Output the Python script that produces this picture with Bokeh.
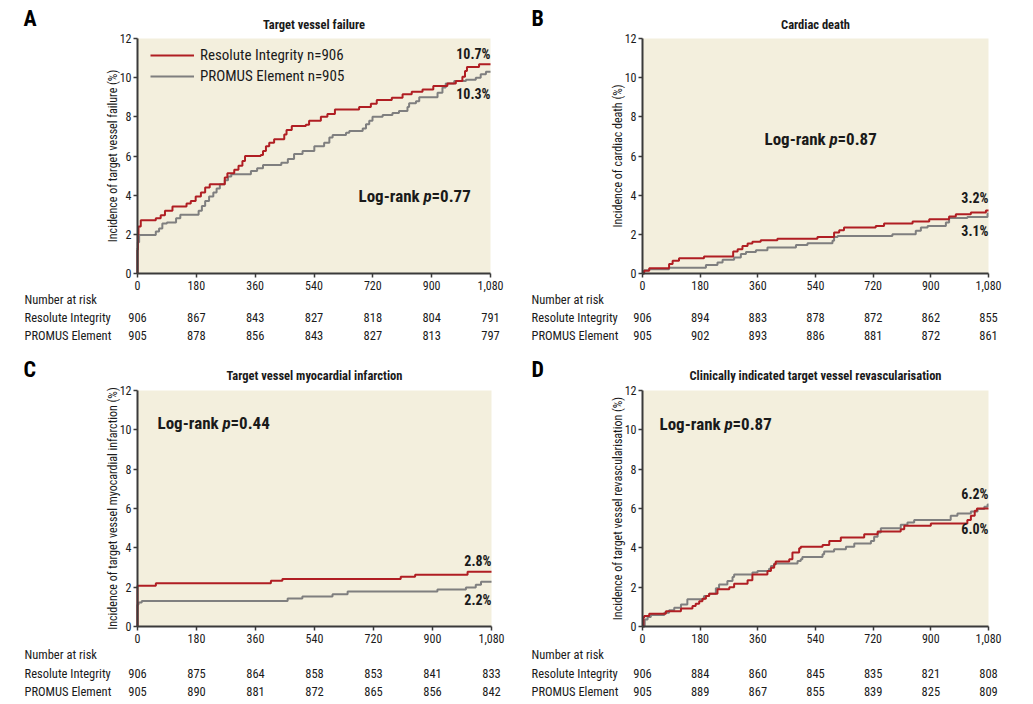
import math
from bokeh.plotting import figure
from bokeh.models import (Range1d, FixedTicker, NumeralTickFormatter, Label, LabelSet, LinearAxis,
                          ColumnDataSource, Legend, LegendItem, BoxAnnotation)
from bokeh.layouts import column, row
from bokeh.core.properties import value
from bokeh.embed import file_html
from bokeh.resources import INLINE

# ---------------- data ----------------
x_ticks = [0, 180, 360, 540, 720, 900, 1080]
y_ticks = [0, 2, 4, 6, 8, 10, 12]
series_names = ["Resolute Integrity", "PROMUS Element"]
legend_labels = ["Resolute Integrity n=906", "PROMUS Element n=905"]

# Panel A: target vessel failure
a_red_t = [0, 0, 1, 3, 10, 56, 71, 84, 107, 150, 163, 178, 194, 207, 221, 267, 275, 296, 309, 321, 329,
           377, 384, 393, 403, 418, 449, 456, 472, 515, 525, 561, 581, 604, 678, 714, 732, 778, 811,
           839, 872, 905, 948, 974, 994, 1002, 1008, 1045, 1080]
a_red_v = [0, 1.2, 2.0, 2.4, 2.72, 2.82, 2.98, 3.2, 3.42, 3.57, 3.7, 3.93, 4.13, 4.39, 4.56, 4.9, 5.12, 5.3, 5.5,
           5.75, 6.0, 6.05, 6.26, 6.5, 6.68, 6.85, 7.1, 7.33, 7.53, 7.6, 7.8, 8.0, 8.15, 8.38, 8.5, 8.67,
           8.86, 8.98, 9.15, 9.28, 9.4, 9.57, 9.7, 9.83, 10.05, 10.34, 10.54, 10.68, 10.68]
a_gray_t = [0, 0, 1, 5, 56, 66, 76, 90, 118, 131, 187, 197, 207, 219, 232, 242, 252, 267, 277, 287, 347,
            366, 384, 440, 460, 479, 505, 541, 571, 587, 597, 638, 648, 689, 699, 709, 719, 750, 780,
            800, 826, 831, 852, 862, 918, 933, 943, 969, 1005, 1035, 1050, 1066, 1080]
a_gray_v = [0, 1.3, 1.6, 1.97, 2.15, 2.3, 2.55, 2.6, 2.82, 3.0, 3.2, 3.45, 3.7, 3.93, 4.13, 4.34, 4.56, 4.76,
            4.95, 5.07, 5.24, 5.37, 5.54, 5.66, 5.85, 6.1, 6.26, 6.5, 6.68, 6.94, 7.07, 7.19, 7.28, 7.41,
            7.62, 7.8, 8.0, 8.1, 8.2, 8.3, 8.5, 8.7, 8.8, 9.0, 9.23, 9.5, 9.7, 9.83, 9.9, 10.0, 10.17,
            10.3, 10.3]

# Panel B: cardiac death
b_red_t = [0, 5, 21, 83, 94, 114, 192, 283, 297, 312, 328, 343, 369, 421, 546, 598, 614, 629, 728, 754,
           843, 895, 957, 978, 1025, 1072, 1080]
b_red_v = [0, 0.14, 0.27, 0.48, 0.65, 0.78, 0.87, 1.12, 1.24, 1.41, 1.53, 1.62, 1.7, 1.77, 1.87, 2.09,
           2.21, 2.35, 2.43, 2.55, 2.66, 2.77, 2.91, 3.03, 3.11, 3.22, 3.22]
b_gray_t = [0, 5, 21, 83, 198, 234, 250, 286, 307, 323, 354, 390, 479, 515, 593, 598, 609, 780, 853,
            869, 890, 947, 957, 1014, 1077, 1080]
b_gray_v = [0, 0.17, 0.22, 0.3, 0.43, 0.56, 0.7, 0.82, 0.99, 1.1, 1.19, 1.33, 1.45, 1.55, 1.67, 1.87,
            1.92, 2.0, 2.18, 2.35, 2.43, 2.6, 2.83, 2.89, 3.07, 3.07]

# Panel C: target vessel myocardial infarction
c_red_t = [0, 0, 56, 407, 442, 803, 847, 1007, 1080]
c_red_v = [0, 2.07, 2.2, 2.32, 2.41, 2.53, 2.63, 2.78, 2.78]
c_gray_t = [0, 0, 3, 13, 458, 503, 595, 641, 915, 1002, 1032, 1048, 1080]
c_gray_v = [0, 1.1, 1.22, 1.3, 1.42, 1.53, 1.64, 1.78, 1.88, 1.98, 2.12, 2.27, 2.27]

# Panel D: clinically indicated target vessel revascularisation
d_red_t = [0, 3, 5, 21, 73, 120, 156, 166, 177, 187, 198, 208, 234, 271, 286, 328, 343, 390, 401, 411,
           416, 458, 468, 489, 494, 562, 583, 619, 692, 734, 806, 817, 900, 1014, 1025, 1037, 1044, 1080]
d_red_v = [0, 0.44, 0.53, 0.65, 0.78, 0.92, 1.04, 1.16, 1.29, 1.41, 1.55, 1.67, 1.89, 2.0, 2.18, 2.35,
           2.65, 2.82, 2.99, 3.16, 3.3, 3.42, 3.76, 3.98, 4.05, 4.15, 4.35, 4.52, 4.69, 4.83, 4.95, 5.12,
           5.24, 5.41, 5.63, 5.88, 6.0, 6.0]
d_gray_t = [0, 7, 16, 26, 68, 83, 99, 120, 140, 192, 208, 229, 239, 265, 281, 286, 343, 359, 395, 401,
            411, 484, 494, 499, 562, 567, 598, 635, 661, 713, 723, 734, 744, 806, 827, 848, 962, 983,
            1025, 1046, 1067, 1077, 1080]
d_gray_v = [0, 0.36, 0.48, 0.58, 0.7, 0.82, 0.95, 1.12, 1.38, 1.55, 1.67, 1.94, 2.14, 2.31, 2.52, 2.65,
            2.74, 2.82, 2.94, 3.08, 3.2, 3.33, 3.42, 3.54, 3.67, 3.81, 3.93, 4.05, 4.22, 4.35, 4.56, 4.78,
            5.0, 5.17, 5.29, 5.41, 5.63, 5.75, 5.85, 5.97, 6.09, 6.2, 6.2]

# Numbers at risk
a_risk_res = [906, 867, 843, 827, 818, 804, 791]
a_risk_pro = [905, 878, 856, 843, 827, 813, 797]
b_risk_res = [906, 894, 883, 878, 872, 862, 855]
b_risk_pro = [905, 902, 893, 886, 881, 872, 861]
c_risk_res = [906, 875, 864, 858, 853, 841, 833]
c_risk_pro = [905, 890, 881, 872, 865, 856, 842]
d_risk_res = [906, 884, 860, 845, 835, 821, 808]
d_risk_pro = [905, 889, 867, 855, 839, 825, 809]

end_labels = {"A": ("10.7%", "10.3%"), "B": ("3.2%", "3.1%"), "C": ("2.8%", "2.2%"), "D": ("6.2%", "6.0%")}
pvalues = {"A": "0.77", "B": "0.87", "C": "0.44", "D": "0.87"}
titles = {"A": "Target vessel failure", "B": "Cardiac death",
          "C": "Target vessel myocardial infarction",
          "D": "Clinically indicated target vessel revascularisation"}
ylabels = {"A": "Incidence of target vessel failure (%)", "B": "Incidence of cardiac death (%)",
           "C": "Incidence of target vessel myocardial infarction (%)",
           "D": "Incidence of target vessel revascularisation (%)"}

# ---------------- style ----------------
FONT = "Roboto Condensed"
RED = "#b01e23"
GRAY = "#7f7f7f"
BG = "#f3efdd"
AXIS = "#3a3a3a"
TXT = "#1a1a1a"

# layout (screen pixel coordinates: canvas origin, canvas size, frame l/t/r/b)
layout = {
    "A": dict(origin=(0, 0), size=(513, 346), frame=(137, 38, 490, 273),
              red_end_y=53, gray_end_y=93, lr=(358, 195)),
    "B": dict(origin=(513, 0), size=(517, 346), frame=(642, 38, 988, 273),
              red_end_y=197, gray_end_y=230, lr=(764, 138)),
    "C": dict(origin=(0, 346), size=(513, 356), frame=(137, 390, 491, 626),
              red_end_y=560, gray_end_y=599, lr=(157, 422)),
    "D": dict(origin=(513, 346), size=(517, 356), frame=(642, 390, 988, 626),
              red_end_y=493, gray_end_y=528, lr=(659, 423)),
}
curves = {"A": (a_red_t, a_red_v, a_gray_t, a_gray_v), "B": (b_red_t, b_red_v, b_gray_t, b_gray_v),
          "C": (c_red_t, c_red_v, c_gray_t, c_gray_v), "D": (d_red_t, d_red_v, d_gray_t, d_gray_v)}
risks = {"A": (a_risk_res, a_risk_pro), "B": (b_risk_res, b_risk_pro),
         "C": (c_risk_res, c_risk_pro), "D": (d_risk_res, d_risk_pro)}


def make_panel(key):
    L = layout[key]
    ox, oy = L["origin"]
    w, h = L["size"]
    fl, ft, fr, fb = L["frame"]
    sx = 1080.0 / (fr - fl)
    sy = 12.0 / (fb - ft)

    def X(px):
        return (px - fl) * sx

    def Y(py):
        return (fb - py) * sy

    p = figure(width=w, height=h,
               x_range=Range1d(X(ox), X(ox + w)), y_range=Range1d(Y(oy + h), Y(oy)),
               output_backend="svg", toolbar_location=None,
               x_axis_location=None, y_axis_location=None,
               min_border=0, min_border_left=0, min_border_right=0,
               min_border_top=0, min_border_bottom=0)
    p.title.visible = False
    p.background_fill_color = "white"
    p.border_fill_color = "white"
    p.outline_line_color = None
    p.grid.visible = False

    # plot area background
    p.add_layout(BoxAnnotation(left=0, right=1080, bottom=0, top=12, fill_color=BG, fill_alpha=1.0,
                               line_color=None, level="underlay"))

    xax = LinearAxis(fixed_location=0, bounds=(0, 1080), ticker=FixedTicker(ticks=x_ticks),
                     formatter=NumeralTickFormatter(format="0,0"))
    yax = LinearAxis(fixed_location=0, bounds=(0, 12), ticker=FixedTicker(ticks=y_ticks))
    for ax in (xax, yax):
        ax.axis_line_color = AXIS
        ax.axis_line_width = 2
        ax.major_tick_line_color = AXIS
        ax.major_tick_line_width = 1.5
        ax.major_tick_out = 4
        ax.major_tick_in = 0
        ax.minor_tick_line_color = None
        ax.major_label_text_font = FONT
        ax.major_label_text_font_size = "12px"
        ax.major_label_text_color = TXT
    xax.major_label_standoff = 3
    yax.major_label_standoff = 2
    p.add_layout(xax, "below")
    p.add_layout(yax, "left")

    # y axis title (rotated)
    p.add_layout(Label(x=X(fl - 25), y=6, text=ylabels[key], angle=math.pi / 2, text_font=FONT,
                       text_font_size="12px", text_baseline="middle", text_align="center",
                       text_color=TXT))

    rt, rv, gt, gv = curves[key]
    g = p.step(x=gt, y=gv, mode="after", line_color=GRAY, line_width=2)
    r = p.step(x=rt, y=rv, mode="after", line_color=RED, line_width=2)

    if key == "A":
        # box placed by its bottom-left corner (pixels from the canvas bottom-left)
        leg = Legend(items=[LegendItem(label=legend_labels[0], renderers=[r]),
                            LegendItem(label=legend_labels[1], renderers=[g])],
                     location=(150 - ox, (oy + h) - 85), margin=0, padding=0,
                     glyph_width=44, glyph_height=18, label_height=18, spacing=3, label_standoff=6,
                     label_text_font=FONT, label_text_font_size="15px", label_text_color=TXT,
                     border_line_color=None, background_fill_alpha=0)
        p.add_layout(leg, "center")

    # panel letter and title
    lx = 23 if key in ("A", "C") else 531
    ly = 18 if key in ("A", "B") else 369
    p.add_layout(Label(x=X(lx), y=Y(ly), text=key, text_font=FONT, text_font_size="22px",
                       text_font_style="bold", text_baseline="middle", text_align="left",
                       text_color="black"))
    ty = 24 if key in ("A", "B") else 375
    p.add_layout(Label(x=540, y=Y(ty), text=titles[key], text_font=FONT, text_font_size="12.5px",
                       text_font_style="bold", text_baseline="middle", text_align="center",
                       text_color=TXT))

    # end percentages
    re, ge = end_labels[key]
    for txt, yy in ((re, L["red_end_y"]), (ge, L["gray_end_y"])):
        p.add_layout(Label(x=1080, y=Y(yy), text=txt, text_font=FONT, text_font_size="14px",
                           text_font_style="bold", text_baseline="middle", text_align="right",
                           text_color=TXT))

    # log-rank text
    lrx, lry = L["lr"]
    parts = [("Log-rank", 0, "bold"), ("p", 65, "bold italic"), ("=" + pvalues[key], 73, "bold")]
    for txt, dx, style in parts:
        p.add_layout(Label(x=X(lrx + dx), y=Y(lry), text=txt, text_font=FONT, text_font_size="17px",
                           text_font_style=style, text_baseline="middle", text_align="left",
                           text_color=TXT))

    # number at risk table
    rows_y = (fb + 26, fb + 44, fb + 62) if key in ("A", "B") else (fb + 28, fb + 47, fb + 65)
    rx = 24 if key in ("A", "C") else 531
    for txt, yy in (("Number at risk", rows_y[0]), (series_names[0], rows_y[1]), (series_names[1], rows_y[2])):
        p.add_layout(Label(x=X(rx), y=Y(yy), text=txt, text_font=FONT, text_font_size="12.5px",
                           text_baseline="middle", text_align="left", text_color=TXT))
    res, pro = risks[key]
    for vals, yy in ((res, rows_y[1]), (pro, rows_y[2])):
        src = ColumnDataSource(dict(x=x_ticks, y=[Y(yy)] * len(x_ticks), t=[str(v) for v in vals]))
        p.add_layout(LabelSet(x="x", y="y", text="t", source=src, text_font=value(FONT),
                              text_font_size="12.5px", text_baseline="middle", text_align="center",
                              text_color=TXT))
    return p


pa, pb, pc, pd = (make_panel(k) for k in "ABCD")
page = column(row(pa, pb), row(pc, pd))
open("out.html", "w").write(file_html(page, INLINE))
